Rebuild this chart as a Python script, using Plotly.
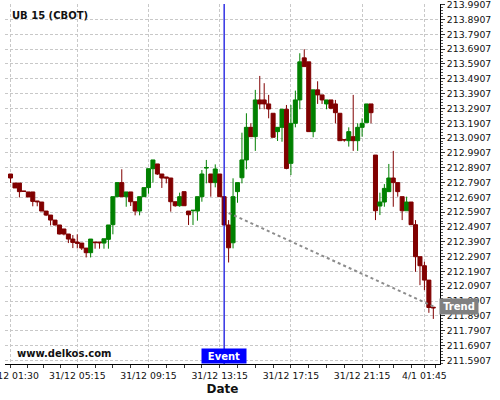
import plotly.graph_objects as go

# ---- data (15-minute candles, indexed by position on the axis) ----
idx = list(range(96))
opens = [212.848, 212.787, 212.787, 212.733, 212.727, 212.727, 212.666, 212.659, 212.598, 212.571,
         212.537, 212.504, 212.477, 212.443, 212.409, 212.389, 212.382, 212.348, 212.317, 212.389,
         212.389, 212.382, 212.407, 212.506, 212.695, 212.790, 212.695, 212.727, 212.661, 212.598,
         212.695, 212.756, 212.884, 212.916, 212.848, 212.828, 212.821, 212.661, 212.634, 212.729,
         212.598, 212.600, 212.598, 212.695, 212.888, 212.848, 212.790, 212.848, 212.695, 212.504,
         212.384, 212.729, 212.823, 212.943, 213.163, 213.100, 213.348, 213.348, 213.321, 213.258,
         213.134, 213.163, 213.285, 212.920, 213.190, 213.348, 213.632, 213.605, 213.134, 213.416,
         213.382, 213.321, 213.348, 213.321, 213.258, 213.080, 213.073, 213.100, 213.073, 213.163,
         213.195, 213.321, 212.976, 212.632, 212.659, 212.729, 212.821, 212.790, 212.695, 212.600,
         212.659, 212.506, 212.290, 212.229, 212.132, 211.949]
highs = [212.848, 212.787, 212.787, 212.733, 212.727, 212.727, 212.666, 212.659, 212.598, 212.571,
         212.537, 212.504, 212.477, 212.443, 212.436, 212.441, 212.382, 212.348, 212.409, 212.389,
         212.389, 212.411, 212.504, 212.695, 212.790, 212.880, 212.727, 212.727, 212.661, 212.695,
         212.756, 212.884, 212.943, 212.916, 212.848, 212.828, 212.821, 212.661, 212.722, 212.729,
         212.598, 212.604, 212.695, 212.875, 212.943, 212.848, 212.913, 212.848, 212.695, 212.537,
         212.819, 212.790, 213.127, 213.258, 213.190, 213.416, 213.510, 213.461, 213.382, 213.258,
         213.163, 213.285, 213.314, 213.314, 213.411, 213.663, 213.690, 213.605, 213.416, 213.474,
         213.382, 213.348, 213.348, 213.348, 213.258, 213.080, 213.163, 213.382, 213.190, 213.224,
         213.321, 213.321, 212.976, 212.722, 212.780, 212.916, 213.004, 212.790, 212.695, 212.695,
         212.659, 212.537, 212.290, 212.256, 212.132, 211.949]
lows = [212.787, 212.754, 212.690, 212.729, 212.693, 212.630, 212.630, 212.598, 212.564, 212.501,
        212.501, 212.441, 212.434, 212.382, 212.348, 212.346, 212.335, 212.285, 212.285, 212.344,
        212.344, 212.344, 212.344, 212.441, 212.695, 212.695, 212.627, 212.632, 212.569, 212.569,
        212.695, 212.715, 212.790, 212.842, 212.754, 212.785, 212.594, 212.627, 212.627, 212.634,
        212.504, 212.504, 212.533, 212.661, 212.785, 212.695, 212.758, 212.695, 212.504, 212.251,
        212.346, 212.654, 212.785, 212.880, 213.100, 213.004, 213.285, 213.285, 213.224, 213.096,
        213.071, 213.066, 212.880, 212.841, 213.163, 213.285, 213.573, 213.134, 213.096, 213.321,
        213.321, 213.285, 213.285, 213.190, 213.073, 213.066, 213.033, 213.004, 213.004, 213.100,
        213.195, 213.190, 212.537, 212.571, 212.627, 212.729, 212.627, 212.695, 212.537, 212.600,
        212.506, 212.188, 212.098, 212.064, 211.911, 211.870]
closes = [212.821, 212.754, 212.729, 212.731, 212.693, 212.663, 212.661, 212.598, 212.571, 212.537,
          212.504, 212.443, 212.443, 212.409, 212.386, 212.380, 212.348, 212.317, 212.409, 212.385,
          212.384, 212.411, 212.504, 212.695, 212.790, 212.695, 212.727, 212.661, 212.598, 212.695,
          212.756, 212.884, 212.943, 212.848, 212.821, 212.821, 212.661, 212.634, 212.695, 212.634,
          212.573, 212.603, 212.695, 212.848, 212.892, 212.790, 212.882, 212.695, 212.504, 212.350,
          212.695, 212.790, 212.943, 213.163, 213.100, 213.348, 213.321, 213.321, 213.287, 213.096,
          213.163, 213.285, 212.886, 213.190, 213.348, 213.605, 213.573, 213.134, 213.416, 213.382,
          213.348, 213.348, 213.292, 213.262, 213.073, 213.078, 213.134, 213.073, 213.163, 213.190,
          213.321, 213.262, 212.600, 212.659, 212.751, 212.821, 212.790, 212.729, 212.600, 212.659,
          212.506, 212.290, 212.229, 212.132, 211.947, 211.945]

xtick_idx = [0, 15, 31, 47, 63, 79, 93]
xtick_text = ["31/12 01:30", "31/12 05:15", "31/12 09:15", "31/12 13:15",
              "31/12 17:15", "31/12 21:15", "4/1 01:45"]
xminor_idx = [3.75, 7.5, 11.25, 19, 23, 27, 35, 39, 43, 51, 55, 59, 67, 71, 75,
              83, 86, 90, 95.5]

ytick_vals = [211.5907, 211.6907, 211.7907, 211.8907, 211.9907, 212.0907, 212.1907,
              212.2907, 212.3907, 212.4907, 212.5907, 212.6907, 212.7907, 212.8907,
              212.9907, 213.0907, 213.1907, 213.2907, 213.3907, 213.4907, 213.5907,
              213.6907, 213.7907, 213.8907, 213.9907]

event_idx = 48
trend_x = [49, 95]
trend_y = [212.585, 211.955]

title_text = "UB 15 (CBOT)"
site_text = "www.delkos.com"

FONT = "DejaVu Sans"
GREEN = "#008000"
RED = "#800000"
GRID = "#c8c8c8"

fig = go.Figure()
fig.add_trace(go.Candlestick(
    x=idx, open=opens, high=highs, low=lows, close=closes,
    increasing=dict(line=dict(color=GREEN, width=1), fillcolor=GREEN),
    decreasing=dict(line=dict(color=RED, width=1), fillcolor=RED),
    whiskerwidth=0, hoverinfo="skip", showlegend=False,
))
fig.add_trace(go.Scatter(
    x=trend_x, y=trend_y, mode="lines",
    line=dict(color="#8c8c8c", width=2, dash="dot"),
    hoverinfo="skip", showlegend=False,
))

fig.add_shape(type="line", xref="x", yref="paper", x0=event_idx, x1=event_idx,
              y0=0, y1=1, line=dict(color="#0000dd", width=1.2))

fig.add_annotation(text="<b>%s</b>" % title_text, xref="paper", yref="paper",
                   x=0.0115, y=0.9675, xanchor="left", yanchor="middle",
                   showarrow=False, font=dict(family=FONT, size=10, color="#111111"))
fig.add_annotation(text="<b>%s</b>" % site_text, xref="paper", yref="paper",
                   x=0.023, y=0.028, xanchor="left", yanchor="middle",
                   showarrow=False, font=dict(family=FONT, size=10, color="#111111"))
fig.add_annotation(text="<b>Event</b>", xref="x", yref="paper", x=event_idx, y=0,
                   xanchor="center", yanchor="bottom", showarrow=False,
                   width=44, height=14, bgcolor="#0000ff", borderpad=0,
                   font=dict(family=FONT, size=10, color="white"))
fig.add_annotation(text="<b>Trend</b>", xref="paper", yref="y", x=0.9977, y=trend_y[-1],
                   xanchor="left", yanchor="middle", showarrow=False,
                   width=38, height=15, bgcolor="#808080", borderpad=0,
                   font=dict(family=FONT, size=10, color="white"))

fig.update_layout(
    width=500, height=400,
    margin=dict(l=5, r=60, t=4, b=36),
    paper_bgcolor="white", plot_bgcolor="white",
    boxgap=0.1, boxgroupgap=0,
    font=dict(family=FONT, size=9.3, color="#111111"),
    hovermode=False,
    xaxis=dict(
        range=[-1.24, 96.5], rangeslider=dict(visible=False),
        tickmode="array", tickvals=xtick_idx, ticktext=xtick_text,
        ticklabeloverflow="allow",
        showline=True, linecolor="black", linewidth=1,
        ticks="outside", ticklen=3, tickcolor="#333333",
        showgrid=True, gridcolor=GRID, griddash="3px,2px", gridwidth=1,
        zeroline=False, automargin=False,
        minor=dict(tickmode="array", tickvals=xminor_idx, ticks="outside",
                   ticklen=3, tickcolor="#333333", showgrid=False),
        title=dict(text="<b>Date</b>", font=dict(family=FONT, size=12, color="#111111"),
                   standoff=4),
    ),
    yaxis=dict(
        side="right", range=[211.5657, 213.9955],
        tickmode="array", tickvals=ytick_vals, tickformat=".4f",
        ticklabeloverflow="allow",
        showline=True, linecolor="black", linewidth=1,
        ticks="outside", ticklen=4, tickcolor="#333333",
        showgrid=True, gridcolor=GRID, griddash="3px,2px", gridwidth=1,
        zeroline=False, automargin=False,
        minor=dict(tick0=211.5907, dtick=0.02, ticks="outside", ticklen=2,
                   tickcolor="#555555", showgrid=False),
    ),
)

fig.write_html("out.html", config={"displayModeBar": False},
               post_script="document.body.style.margin='0px';")
